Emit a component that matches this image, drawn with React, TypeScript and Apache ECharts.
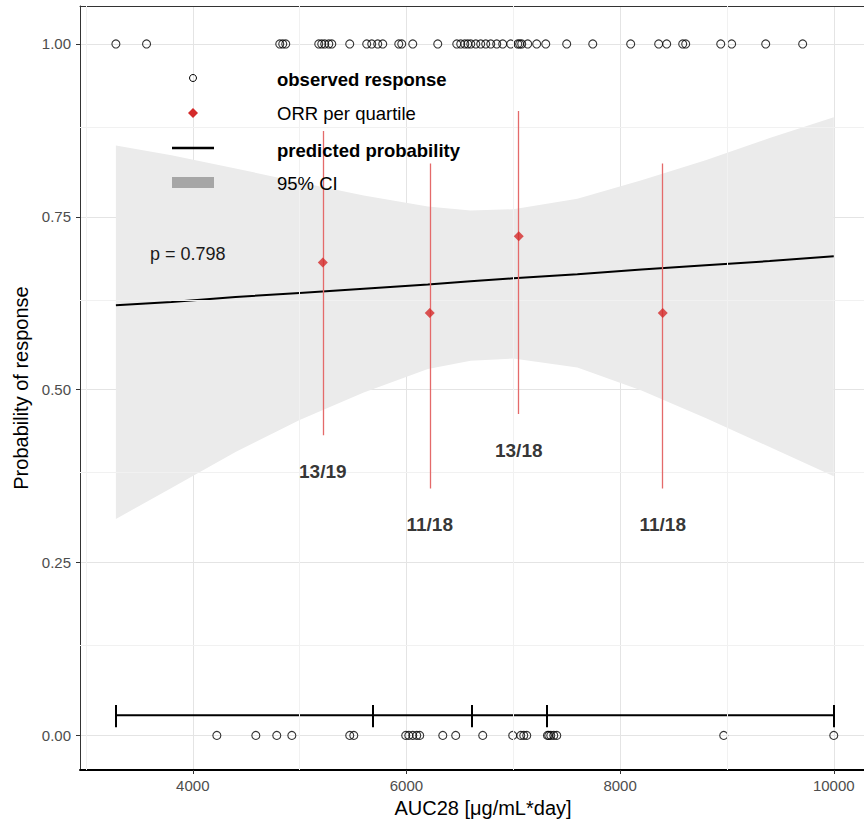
import React, { useEffect, useRef } from "react";
import * as echarts from "echarts";

const FONT = "'Liberation Sans', Arial, Helvetica, sans-serif";

// Observed AUC28 values of responders (y = 1) and non-responders (y = 0)
const responderAUC = [
  3280, 3567, 4814, 4842, 4870, 5179, 5207, 5235, 5273, 5301, 5469, 5628, 5675,
  5731, 5778, 5928, 5956, 6059, 6293, 6471, 6508, 6546, 6574, 6602,
  6649, 6695, 6742, 6789, 6845, 6901, 6976, 7042, 7060, 7079, 7135, 7219, 7304,
  7500, 7744, 8099, 8361, 8436, 8586, 8614, 8942, 9044, 9363, 9709,
];
const nonResponderAUC = [
  4225, 4590, 4786, 4927, 5469, 5507,
  5993, 6022, 6059, 6096, 6124, 6340, 6461,
  6714, 6995, 7070, 7098, 7126,
  7320, 7332, 7351, 7379, 7407, 8970, 10000,
];

// Logistic fit and 95% CI band
const fitX = [3280, 3800, 4400, 5000, 5600, 6200, 6600, 7000, 7600, 8200, 8800, 9400, 10000];
const fitPred = [0.622, 0.627, 0.634, 0.64, 0.646, 0.652, 0.657, 0.661, 0.667, 0.674, 0.68, 0.686, 0.693];
const fitLower = [0.313, 0.358, 0.41, 0.456, 0.496, 0.53, 0.542, 0.545, 0.532, 0.499, 0.459, 0.417, 0.375];
const fitUpper = [0.853, 0.839, 0.82, 0.8, 0.781, 0.765, 0.759, 0.761, 0.776, 0.803, 0.832, 0.864, 0.894];

// ORR per quartile
const quartileMid = [5217, 6218, 7051, 8399];
const orr = [0.684, 0.611, 0.722, 0.611];
const orrLow = [0.434, 0.357, 0.465, 0.357];
const orrHigh = [0.874, 0.827, 0.903, 0.827];
const orrLabels = ["13/19", "11/18", "13/18", "11/18"];
const orrLabelY = [0.381, 0.305, 0.412, 0.305];

// Quartile breaks bar
const quartileBreaks = [3280, 5682, 6611, 7316, 10000];
const breakBarY = 0.029;
const breakTickLow = 0.012;
const breakTickHigh = 0.044;

// Axis ticks
const xTicks = [4000, 6000, 8000, 10000];
const xMinor = [3000, 5000, 7000, 9000];
const yTicks = [0, 0.25, 0.5, 0.75, 1];
const yMinor = [0.125, 0.375, 0.625, 0.875];

const X_MIN = 2944;
const X_MAX = 10283;
const Y_MIN = -0.05;
const Y_MAX = 1.0549;
const RED = "#d42a2a";

export default function App() {
  const ref = useRef<HTMLDivElement>(null);
  useEffect(() => {
    if (!ref.current) return;
    const chart = echarts.init(ref.current, undefined, { renderer: "svg" });
    const option: any = {
      animation: false,
      backgroundColor: "#ffffff",
      textStyle: { fontFamily: FONT },
      grid: {
        left: 80,
        right: 0,
        top: 6,
        bottom: 56,
        show: false,
      },
      xAxis: [
        {
          type: "value",
          min: X_MIN,
          max: X_MAX,
          name: "AUC28 [μg/mL*day]",
          nameLocation: "middle",
          nameGap: 27,
          nameTextStyle: { fontFamily: FONT, fontSize: 20, color: "#000", padding: [0, 0, 0, 22] },
          axisLine: { show: true, onZero: false, lineStyle: { color: "#000", width: 2 } },
          axisTick: { show: true, length: 4, lineStyle: { color: "#333" }, customValues: xTicks },
          axisLabel: {
            customValues: xTicks,
            margin: 8,
            fontFamily: FONT,
            fontSize: 15,
            color: "#4d4d4d",
            formatter: (v: number) => String(v),
          },
          splitLine: { show: true, lineStyle: { color: "#e4e4e4", width: 1 } },
        },
        {
          type: "value",
          position: "top",
          min: X_MIN,
          max: X_MAX,
          axisLine: { show: true, onZero: false, lineStyle: { color: "#333", width: 1 } },
          axisTick: { show: false },
          axisLabel: { show: false },
          splitLine: { show: false },
        },
      ],
      yAxis: {
        type: "value",
        min: Y_MIN,
        max: Y_MAX,
        name: "Probability of response",
        nameLocation: "middle",
        nameGap: 44,
        nameTextStyle: { fontFamily: FONT, fontSize: 20, color: "#000" },
        axisLine: { show: true, onZero: false, lineStyle: { color: "#333", width: 1 } },
        axisTick: { show: true, length: 4, lineStyle: { color: "#333" }, customValues: yTicks },
        axisLabel: {
          customValues: yTicks,
          margin: 9,
          fontFamily: FONT,
          fontSize: 15,
          color: "#4d4d4d",
          formatter: (v: number) => v.toFixed(2),
        },
        splitLine: { show: true, lineStyle: { color: "#e4e4e4", width: 1 } },
      },
      series: [
        {
          name: "minorGrid",
          type: "line",
          data: [],
          silent: true,
          z: 0,
          markLine: {
            silent: true,
            symbol: ["none", "none"],
            label: { show: false },
            lineStyle: { color: "#f1f1f1", width: 1, type: "solid" },
            data: [
              ...xMinor.map((v) => ({ xAxis: v })),
              ...yMinor.map((v) => ({ yAxis: v })),
            ],
          },
        },
        {
          name: "ciBand",
          type: "custom",
          data: [[fitX[0], fitLower[0]]],
          silent: true,
          clip: false,
          z: 1,
          renderItem: (_params: any, api: any) => {
            const pts: number[][] = [];
            for (let i = 0; i < fitX.length; i++) pts.push(api.coord([fitX[i], fitUpper[i]]));
            for (let i = fitX.length - 1; i >= 0; i--) pts.push(api.coord([fitX[i], fitLower[i]]));
            return {
              type: "polygon",
              shape: { points: pts },
              style: { fill: "#ebebeb", stroke: "none" },
            };
          },
        },
        {
          name: "predicted",
          type: "line",
          data: fitX.map((x, i) => [x, fitPred[i]]),
          symbol: "none",
          lineStyle: { color: "#000", width: 2 },
          silent: true,
          z: 3,
        },
        {
          name: "responders",
          type: "scatter",
          data: responderAUC.map((x) => [x, 1]),
          symbol: "circle",
          symbolSize: 8,
          itemStyle: { color: "rgba(0,0,0,0)", borderColor: "#000", borderWidth: 1.1 },
          silent: true,
          z: 4,
        },
        {
          name: "nonResponders",
          type: "scatter",
          data: nonResponderAUC.map((x) => [x, 0]),
          symbol: "circle",
          symbolSize: 8,
          itemStyle: { color: "rgba(0,0,0,0)", borderColor: "#000", borderWidth: 1.1 },
          silent: true,
          z: 4,
        },
        {
          name: "orr",
          type: "scatter",
          data: quartileMid.map((x, i) => [x, orr[i]]),
          symbol: "diamond",
          symbolSize: 10,
          itemStyle: { color: RED },
          silent: true,
          z: 5,
          markLine: {
            silent: true,
            symbol: ["none", "none"],
            label: { show: false },
            lineStyle: { color: "#e46a6a", width: 1.3, type: "solid" },
            data: quartileMid.map((x, i) => [
              { coord: [x, orrLow[i]] },
              { coord: [x, orrHigh[i]] },
            ]),
          },
        },
        {
          name: "orrLabels",
          type: "scatter",
          data: quartileMid.map((x, i) => [x, orrLabelY[i]]),
          symbolSize: 0,
          silent: true,
          z: 6,
          itemStyle: { color: "#000" },
          label: {
            show: true,
            position: "inside",
            fontFamily: FONT,
            fontSize: 19,
            fontWeight: "bold",
            color: "#000",
            textBorderWidth: 0,
            formatter: (p: any) => orrLabels[p.dataIndex],
          },
        },
        {
          name: "quartileBar",
          type: "line",
          data: [
            [quartileBreaks[0], breakBarY],
            [quartileBreaks[quartileBreaks.length - 1], breakBarY],
          ],
          symbol: "none",
          lineStyle: { color: "#000", width: 2 },
          silent: true,
          z: 4,
          markLine: {
            silent: true,
            symbol: ["none", "none"],
            label: { show: false },
            lineStyle: { color: "#000", width: 2, type: "solid" },
            data: quartileBreaks.map((b) => [
              { coord: [b, breakTickLow] },
              { coord: [b, breakTickHigh] },
            ]),
          },
        },
      ],
      graphic: [
        {
          type: "circle",
          shape: { cx: 193, cy: 78, r: 3.5 },
          style: { fill: "rgba(0,0,0,0)", stroke: "#000", lineWidth: 1 },
          z: 100,
        },
        {
          type: "polygon",
          shape: { points: [[193, 108], [198, 113], [193, 118], [188, 113]] },
          style: { fill: RED },
          z: 100,
        },
        {
          type: "line",
          shape: { x1: 172, y1: 148, x2: 214, y2: 148 },
          style: { stroke: "#000", lineWidth: 2.5 },
          z: 100,
        },
        {
          type: "rect",
          shape: { x: 172, y: 177, width: 42, height: 11 },
          style: { fill: "#a6a6a6" },
          z: 100,
        },
        {
          type: "text",
          x: 277,
          y: 79,
          style: { text: "observed response", fontFamily: FONT, fontSize: 18.5, fontWeight: "bold", fill: "#000", verticalAlign: "middle" },
          z: 100,
        },
        {
          type: "text",
          x: 277,
          y: 113,
          style: { text: "ORR per quartile", fontFamily: FONT, fontSize: 18.5, fill: "#000", verticalAlign: "middle" },
          z: 100,
        },
        {
          type: "text",
          x: 277,
          y: 150,
          style: { text: "predicted probability", fontFamily: FONT, fontSize: 18.5, fontWeight: "bold", fill: "#000", verticalAlign: "middle" },
          z: 100,
        },
        {
          type: "text",
          x: 277,
          y: 183,
          style: { text: "95% CI", fontFamily: FONT, fontSize: 18.5, fill: "#000", verticalAlign: "middle" },
          z: 100,
        },
        {
          type: "text",
          x: 150,
          y: 254,
          style: { text: "p = 0.798", fontFamily: FONT, fontSize: 18, fill: "#1a1a1a", verticalAlign: "middle" },
          z: 100,
        },
      ],
    };
    chart.setOption(option);
    return () => chart.dispose();
  }, []);
  return (
    <div
      ref={ref}
      style={{ position: "fixed", left: 0, top: 0, width: 864, height: 826, overflow: "hidden" }}
    />
  );
}
